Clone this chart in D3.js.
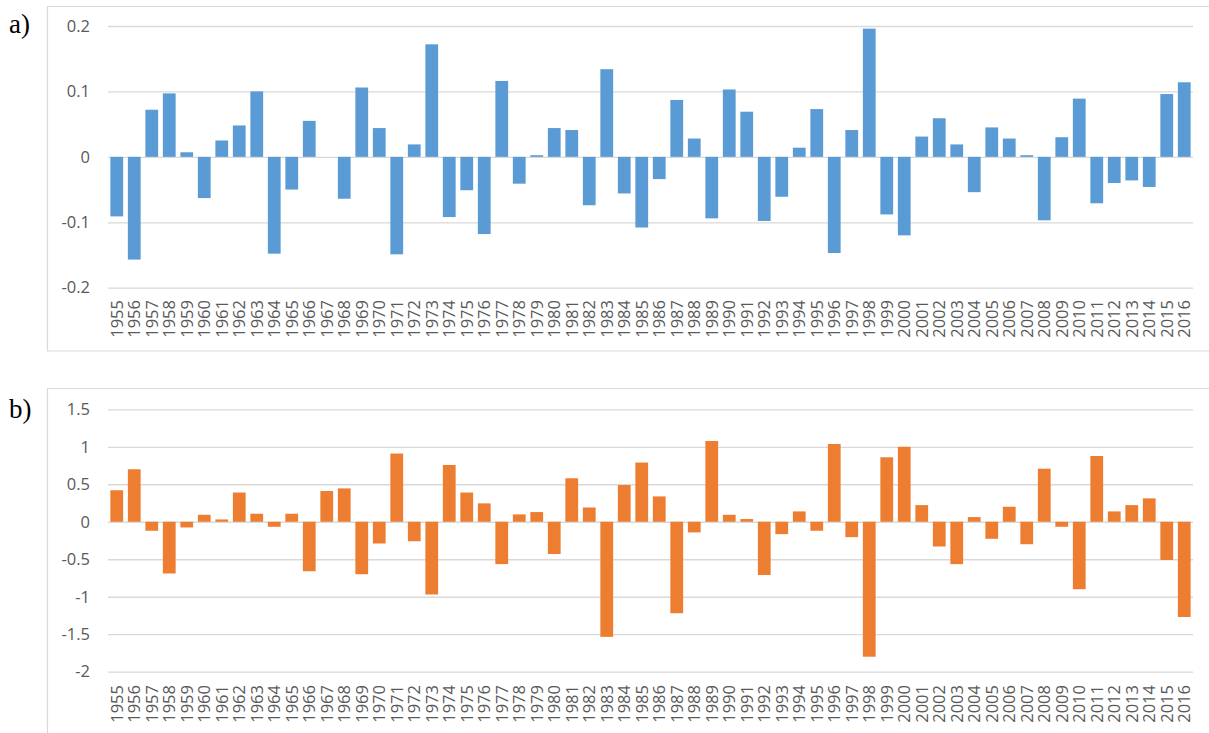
<!DOCTYPE html>
<html>
<head>
<meta charset="utf-8">
<script src="https://cdn.jsdelivr.net/npm/d3@7"></script>
<style>
  html, body { margin: 0; padding: 0; background: #fff; }
  svg { display: block; }
  .tick-label { font-family: "Open Sans", "Noto Sans", sans-serif; fill: #595959; }
  .panel-tag { font-family: "Liberation Serif", "DejaVu Serif", serif; fill: #000; }
</style>
</head>
<body>
<svg id="chart" width="1209" height="733"></svg>
<script>
// Years shared by both panels
const years = d3.range(1955, 2017).map(String);

// Panel a) anomalies
const seriesA = [
  -0.091, -0.157, 0.072, 0.097, 0.007, -0.063, 0.025, 0.048, 0.100, -0.148,
  -0.050, 0.055, 0.000, -0.064, 0.106, 0.044, -0.149, 0.019, 0.172, -0.092,
  -0.051, -0.118, 0.116, -0.041, 0.0025, 0.044, 0.041, -0.074, 0.134, -0.056,
  -0.108, -0.034, 0.087, 0.028, -0.094, 0.103, 0.069, -0.098, -0.061, 0.014,
  0.073, -0.147, 0.041, 0.196, -0.088, -0.120, 0.031, 0.059, 0.019, -0.054,
  0.045, 0.028, 0.0025, -0.097, 0.030, 0.089, -0.071, -0.040, -0.036, -0.046,
  0.096, 0.114
];

// Panel b) anomalies
const seriesB = [
  0.42, 0.70, -0.12, -0.69, -0.076, 0.093, 0.031, 0.39, 0.107, -0.067,
  0.107, -0.66, 0.41, 0.445, -0.70, -0.29, 0.91, -0.26, -0.97, 0.757,
  0.39, 0.245, -0.565, 0.098, 0.129, -0.43, 0.58, 0.19, -1.535, 0.49,
  0.79, 0.338, -1.22, -0.142, 1.077, 0.093, 0.036, -0.71, -0.165, 0.138,
  -0.12, 1.037, -0.205, -1.80, 0.86, 1.00, 0.222, -0.33, -0.565, 0.062,
  -0.227, 0.20, -0.30, 0.708, -0.067, -0.90, 0.877, 0.138, 0.222, 0.312,
  -0.51, -1.27
];

// Tick values for each panel's value axis
const ticksA = [-0.2, -0.1, 0, 0.1, 0.2];
const ticksB = [-2, -1.5, -1, -0.5, 0, 0.5, 1, 1.5];

const svg = d3.select("#chart");
const gridColor = "#d9d9d9";

function drawPanel(cfg) {
  const g = svg.append("g");

  // chart frame (left, top, bottom edges; right side runs off the page)
  g.append("path")
    .attr("d", `M1215,${cfg.frameTop}H${cfg.frameLeft}V${cfg.frameBottom}H1215`)
    .attr("fill", "none")
    .attr("stroke", gridColor)
    .attr("stroke-width", 1.2);

  const x = d3.scaleBand()
    .domain(years)
    .range([cfg.left, cfg.right])
    .paddingInner(0.27)
    .paddingOuter(0.135);

  const y = d3.scaleLinear()
    .domain(cfg.domain)
    .range([cfg.bottom, cfg.top]);

  // value axis: gridlines plus right-aligned labels
  const yAxis = d3.axisLeft(y)
    .tickValues(cfg.ticks)
    .tickSize(-(cfg.right - cfg.left))
    .tickPadding(18)
    .tickFormat(d => String(d));

  const ya = g.append("g")
    .attr("transform", `translate(${cfg.left},0)`)
    .call(yAxis);
  ya.select(".domain").remove();
  ya.selectAll(".tick line")
    .attr("stroke", gridColor)
    .attr("stroke-width", 1.3);
  ya.selectAll(".tick text")
    .attr("class", "tick-label")
    .style("font-size", "16.5px")
    .attr("fill", "#595959");

  // bars
  g.append("g")
    .selectAll("rect")
    .data(cfg.values)
    .join("rect")
    .attr("x", (d, i) => x(years[i]))
    .attr("width", x.bandwidth())
    .attr("y", d => y(Math.max(0, d)))
    .attr("height", d => Math.abs(y(d) - y(0)))
    .attr("fill", cfg.color);

  // category axis: vertical year labels
  const xAxis = d3.axisBottom(x).tickSize(0).tickPadding(0);
  const xa = g.append("g")
    .attr("transform", `translate(0,${cfg.labelTop})`)
    .call(xAxis);
  xa.select(".domain").remove();
  xa.selectAll(".tick text")
    .attr("class", "tick-label")
    .style("font-size", "16.5px")
    .attr("fill", "#595959")
    .attr("transform", "rotate(-90)")
    .attr("text-anchor", "end")
    .attr("x", 0)
    .attr("y", 0)
    .attr("dy", "0.35em");

  // panel tag
  g.append("text")
    .attr("class", "panel-tag")
    .attr("x", 9)
    .attr("y", cfg.tagY)
    .style("font-size", "27px")
    .text(cfg.tag);
}

drawPanel({
  values: seriesA, ticks: ticksA, domain: [-0.2, 0.2],
  color: "#5b9bd5", tag: "a)",
  left: 108, right: 1193, top: 26, bottom: 287.7,
  frameLeft: 47.5, frameTop: 6.5, frameBottom: 351,
  labelTop: 300, tagY: 33
});

drawPanel({
  values: seriesB, ticks: ticksB, domain: [-2, 1.5],
  color: "#ed7d31", tag: "b)",
  left: 108, right: 1193, top: 409.3, bottom: 671.7,
  frameLeft: 47.5, frameTop: 388.5, frameBottom: 745,
  labelTop: 685, tagY: 418
});
</script>
</body>
</html>
